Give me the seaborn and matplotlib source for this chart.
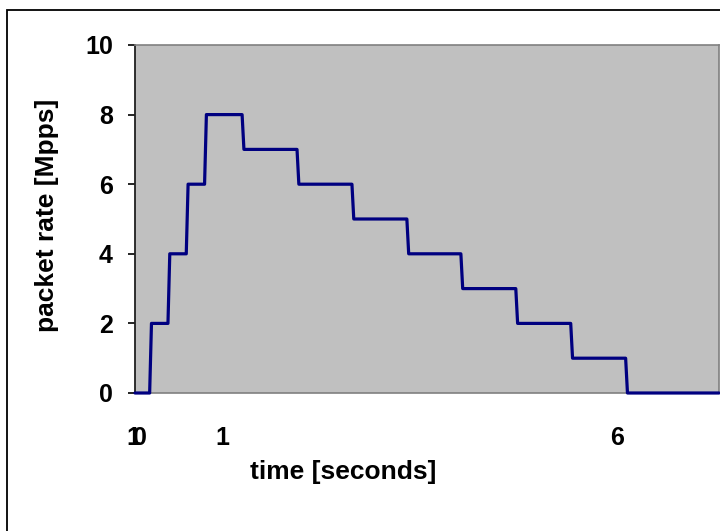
import numpy as np
import pandas as pd
import matplotlib
matplotlib.use("Agg")
import matplotlib.pyplot as plt
import matplotlib.transforms as mtransforms
from matplotlib.patches import Rectangle
import seaborn as sns

# --- data (time axis in chart units) ---
time = [0.00, 0.08, 0.09, 0.18, 0.19, 0.28, 0.29, 0.38, 0.39,
        0.585, 0.595, 0.885, 0.895, 1.185, 1.195, 1.485, 1.495,
        1.78, 1.79, 2.08, 2.09, 2.38, 2.39, 2.68, 2.69, 3.19]
rate = [0, 0, 2, 2, 4, 4, 6, 6, 8,
        8, 7, 7, 6, 6, 5, 5, 4,
        4, 3, 3, 2, 2, 1, 1, 0, 0]

# odd hand-placed category labels under the x axis
x_label_pos = [-0.011, 0.027, 0.475, 2.634]
x_label_txt = ["1", "0", "1", "6"]
y_ticks = [0, 2, 4, 6, 8, 10]

df = pd.DataFrame({"time": time, "rate": rate})

sns.set_style("white")
plt.rcParams["font.family"] = ["Liberation Sans", "DejaVu Sans"]
plt.rcParams["font.weight"] = "bold"
plt.rcParams["text.color"] = "black"
plt.rcParams["ytick.color"] = "black"
plt.rcParams["ytick.labelcolor"] = "black"

fig = plt.figure(figsize=(7.2, 5.31), dpi=100)
ax = fig.add_axes([135 / 720, 138 / 531, 584 / 720, 348 / 531])
ax.set_facecolor("#C0C0C0")

sns.lineplot(data=df, x="time", y="rate", sort=False, estimator=None,
             color="#000080", linewidth=2.3, ax=ax, clip_on=False, zorder=5)

ax.set_xlim(0, 3.19)
ax.set_ylim(0, 10)
ax.set_yticks(y_ticks)
ax.set_yticklabels([str(v) for v in y_ticks], fontsize=18, fontweight="bold",
                   color="black")
ax.set_xticks([])
ax.tick_params(axis="y", direction="out", length=5, width=1.2, color="black",
               labelcolor="black", pad=11, left=True)

for side in ["top", "right", "bottom"]:
    ax.spines[side].set_color("#808080")
    ax.spines[side].set_linewidth(1.2)
ax.spines["left"].set_color("#202020")
ax.spines["left"].set_linewidth(1.3)

trans = mtransforms.blended_transform_factory(ax.transData, ax.transAxes)
for xp, txt in zip(x_label_pos, x_label_txt):
    ax.text(xp, -0.13, txt, transform=trans, ha="center", va="center",
            fontsize=18, fontweight="bold", color="black", clip_on=False)

ax.set_xlabel("")
ax.set_ylabel("")
fig.text(343 / 720, 1 - 472 / 531, "time [seconds]", ha="center", va="center",
         fontsize=19, fontweight="bold", color="black")
fig.text(47 / 720, 1 - 215 / 531, "packet rate [Mpps]", ha="center", va="center",
         rotation=90, fontsize=19, fontweight="bold", color="black")

# outer chart frame (runs off the right/bottom edge of the picture)
fig.patches.append(Rectangle((7 / 720, -0.2), 1.5, 1.2 - 10 / 531,
                             transform=fig.transFigure, fill=False,
                             edgecolor="black", linewidth=1.3))

fig.savefig("out.png", dpi=100)
